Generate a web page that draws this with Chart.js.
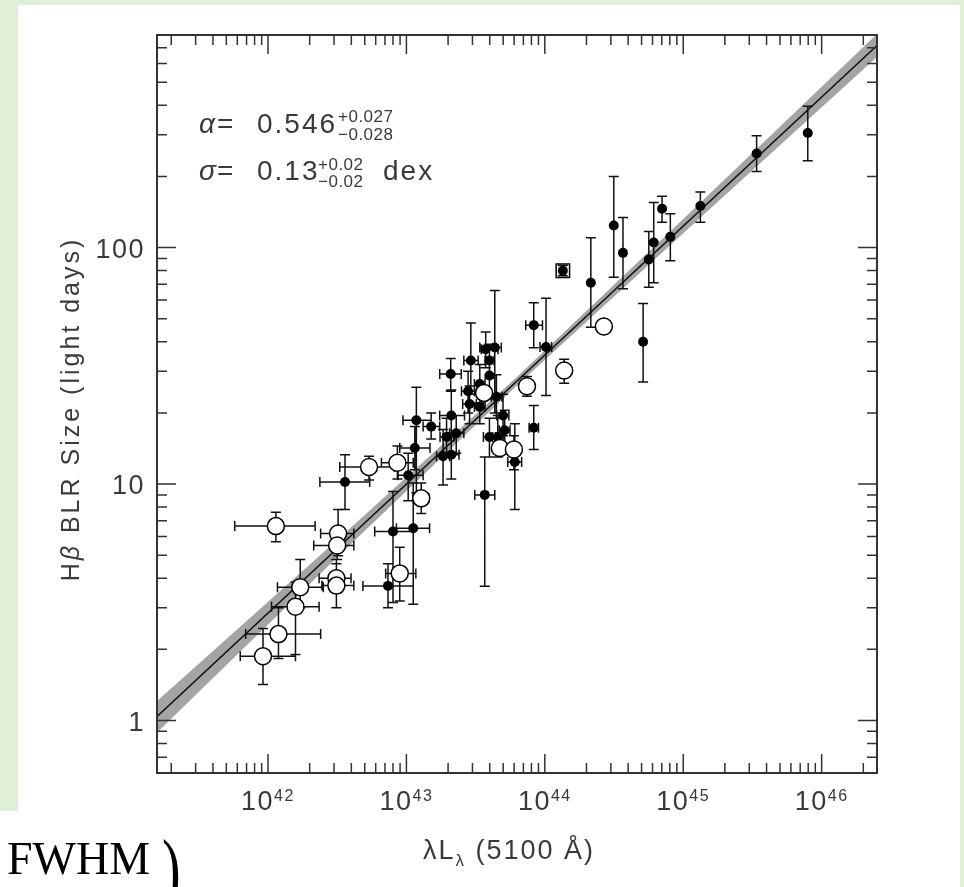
<!DOCTYPE html>
<html>
<head>
<meta charset="utf-8">
<script src="https://cdn.jsdelivr.net/npm/chart.js@4.4.1/dist/chart.umd.min.js"></script>
<style>
  html, body { margin: 0; padding: 0; background: #fff; }
  body { width: 964px; height: 887px; position: relative; overflow: hidden; }
  .green { position: absolute; background: #e0f0d8; }
  #chart { position: absolute; left: 0; top: 0; }
  #fwhm { position: absolute; left: 7px; top: 836px; font: 46px/46px 'Liberation Serif', serif; color: #000; }
  #paren { position: absolute; left: 162px; top: 827px; font: 56px/56px 'Liberation Serif', serif; color: #000;
           transform: scaleY(1.5); transform-origin: top left; }
</style>
</head>
<body>
<div class="green" style="left:0;top:0;width:964px;height:5px"></div>
<div class="green" style="left:0;top:0;width:18px;height:811px"></div>
<div class="green" style="left:960px;top:0;width:4px;height:887px"></div>
<canvas id="chart" width="964" height="887"></canvas>
<div id="fwhm">FWHM</div>
<div id="paren">)</div>
<script>
// H-beta BLR size vs 5100A luminosity (log-log)
const xDecades = [1e42, 1e43, 1e44, 1e45, 1e46];
const yDecades = [1, 10, 100];
const xRange = [10 ** 41.198, 10 ** 46.40];
const yRange = [10 ** -0.195, 10 ** 2.899];

// best fit line and its band
const fitL = [1.58e41, 2.51e46];
const fitR = [1.04, 716];
const bandL = [1.58e41, 3.16e42, 6.31e43, 1e45, 2.51e46];
const bandUpper = [1.21, 5.8, 28.4, 132, 800];
const bandLower = [0.89, 4.9, 26.2, 115, 640];

// rows: [L, R, L low, L high, R low, R high]
const filledPts = [
  [7.94e45, 305, null, null, 233, 396],
  [3.39e45, 250, null, null, 210, 297],
  [1.33e45, 150, null, null, 128, 172],
  [8.07e44, 111, null, null, 88, 139],
  [7.03e44, 146, null, null, 128, 165],
  [6.12e44, 105, null, null, 71, 155],
  [5.64e44, 89, null, null, 68, 117],
  [5.13e44, 40, null, null, 27, 58],
  [3.67e44, 95, null, null, 67, 134],
  [3.15e44, 124, null, null, 75, 200],
  [2.15e44, 71, null, null, 46, 110],
  [1.02e44, 38, 9.23e43, 1.12e44, 23.7, 61],
  [8.32e43, 47, 7.28e43, 9.62e43, 37.7, 58.4],
  [8.32e43, 17.3, 7.7e43, 9.0e43, 14.0, 21.5],
  [6.07e43, 12.4, 5.4e43, 6.8e43, 7.8, 18],
  [3.68e43, 9.0, 3.12e43, 4.35e43, 3.7, 13],
  [4.35e43, 37.8, 3.39e43, 4.85e43, 20, 65.8],
  [3.74e43, 37.2, 3.48e43, 4.59e43, 31, 44],
  [2.92e43, 33.3, 2.6e43, 3.3e43, 24, 48],
  [2.09e43, 29.2, 1.74e43, 2.49e43, 24.7, 34],
  [2.79e43, 24.7, 2.5e43, 3.1e43, 20, 30],
  [3.39e43, 26.5, 3.1e43, 3.7e43, 22, 32],
  [2.86e43, 21.8, 2.55e43, 3.2e43, 18, 26],
  [3.39e43, 21.2, 3.1e43, 3.7e43, 18, 25],
  [4.47e43, 23.4, 4.1e43, 4.9e43, 19, 29],
  [4.99e43, 19.5, 4.5e43, 5.5e43, 16, 24],
  [3.98e43, 15.8, 3.6e43, 4.4e43, 13, 19],
  [4.57e43, 15.8, 4.2e43, 5.0e43, 13, 19.5],
  [5.13e43, 16.9, 4.7e43, 5.6e43, 14, 20.5],
  [2.11e43, 19.5, 1.74e43, 2.63e43, 16, 25],
  [1.51e43, 17.5, 1.32e43, 1.74e43, 15.5, 20],
  [1.95e43, 15.8, 1.75e43, 2.2e43, 13, 19],
  [2.29e43, 16.4, 2.05e43, 2.6e43, 13.5, 19.5],
  [1.18e43, 18.6, 9.44e42, 1.51e43, 9.2, 25.7],
  [1.84e43, 13.1, 1.65e43, 2.05e43, 9.9, 17],
  [2.11e43, 13.3, 1.85e43, 2.4e43, 10.5, 16.5],
  [1.03e43, 10.9, 8.7e42, 1.32e43, 8.5, 13.5],
  [1.15e43, 14.2, 8.95e42, 1.48e43, 11.5, 17.5],
  [3.6e42, 10.2, 2.37e42, 5.43e42, 7.8, 13.3],
  [8.0e42, 6.3, 5.9e42, 1.12e43, 3.16, 9.3],
  [1.12e43, 6.5, 8.47e42, 1.47e43, 3.1, 10.1],
  [7.36e42, 3.71, 4.85e42, 1.12e43, 3.0, 4.6],
  [1.35e44, 79.8, null, null, 76, 84],
  [3.98e43, 33.3, 3.7e43, 4.3e43, 28, 39],
  [3.98e43, 28.8, null, null, 24, 34],
];

const openPts = [
  [2.67e44, 46.4, null, null, null, null],
  [1.38e44, 30.2, null, null, 26.7, 33.7],
  [7.43e43, 25.9, null, null, 23.5, 28.5],
  [4.73e43, 14.2, null, null, null, null],
  [5.98e43, 14.0, 5.5e43, 6.5e43, 11.5, 16],
  [3.64e43, 24.3, null, null, null, null],
  [5.37e42, 11.8, 3.3e42, 8.2e42, 10.4, 13.1],
  [8.61e42, 12.3, 6.6e42, 1.12e43, 10.5, 14.5],
  [1.28e43, 8.7, 1.12e43, 1.45e43, 7.5, 10.1],
  [1.14e42, 6.64, 5.75e41, 2.19e42, 5.7, 7.6],
  [3.21e42, 6.18, 2.4e42, 4.17e42, 4.97, 7.8],
  [3.16e42, 5.5, 2.14e42, 4.17e42, 4.8, 6.3],
  [8.95e42, 4.19, 7.08e42, 1.17e43, 3.2, 5.4],
  [3.12e42, 4.0, 2.34e42, 3.98e42, 3.5, 4.6],
  [3.12e42, 3.72, 2.45e42, 4.17e42, 3.0, 4.8],
  [1.71e42, 3.66, 1.17e42, 2.51e42, 3.0, 4.8],
  [1.58e42, 3.03, 1.06e42, 2.34e42, 1.9, 3.84],
  [1.19e42, 2.32, 6.9e41, 2.4e42, 1.83, 3.0],
  [9.2e41, 1.87, 6.3e41, 1.58e42, 1.42, 2.45],
];

const boxedPts = [[1.35e44, 79.8]];

const SANS = "'Liberation Sans', Arial, sans-serif";
const TEXT = '#3a3a3a';
const CAP = 5;

const toXY = (xs, ys) => xs.map((x, i) => ({ x: x, y: ys[i] }));
const rowsXY = rows => rows.map(r => ({ x: r[0], y: r[1] }));

function drawErrorBars(chart, rows) {
  const { ctx, scales: { x, y } } = chart;
  ctx.save();
  ctx.strokeStyle = '#111';
  ctx.lineWidth = 1.5;
  ctx.beginPath();
  rows.forEach(r => {
    const px = x.getPixelForValue(r[0]);
    const py = y.getPixelForValue(r[1]);
    if (r[2] != null) {
      const a = x.getPixelForValue(r[2]), b = x.getPixelForValue(r[3]);
      ctx.moveTo(a, py); ctx.lineTo(b, py);
      ctx.moveTo(a, py - CAP); ctx.lineTo(a, py + CAP);
      ctx.moveTo(b, py - CAP); ctx.lineTo(b, py + CAP);
    }
    if (r[4] != null) {
      const a = y.getPixelForValue(r[4]), b = y.getPixelForValue(r[5]);
      ctx.moveTo(px, a); ctx.lineTo(px, b);
      ctx.moveTo(px - CAP, a); ctx.lineTo(px + CAP, a);
      ctx.moveTo(px - CAP, b); ctx.lineTo(px + CAP, b);
    }
  });
  ctx.stroke();
  ctx.restore();
}

// draw a row of text pieces: [text, font, dy]
function drawRuns(ctx, runs, x, y, align) {
  let w = 0;
  runs.forEach(r => { ctx.font = r[1]; w += ctx.measureText(r[0]).width; });
  let cx = align === 'center' ? x - w / 2 : align === 'right' ? x - w : x;
  ctx.textAlign = 'left';
  runs.forEach(r => {
    ctx.font = r[1];
    ctx.fillText(r[0], cx, y + (r[2] || 0));
    cx += ctx.measureText(r[0]).width;
  });
}

function minorTicks(decades, lo, hi) {
  const out = [];
  const first = decades[0] / 10;
  for (let d = first; d <= decades[decades.length - 1] * 10; d *= 10) {
    for (let m = 1; m <= 9; m++) {
      const v = m * d;
      if (v >= lo && v <= hi) out.push({ v: v, major: m === 1 });
    }
  }
  return out;
}

const framePlugin = {
  id: 'frame',
  beforeDatasetDraw(chart, args) {
    if (args.index === 3) drawErrorBars(chart, filledPts);
    if (args.index === 4) drawErrorBars(chart, openPts);
  },
  afterDraw(chart) {
    const { ctx, chartArea: a, scales: { x, y } } = chart;
    ctx.save();
    ctx.strokeStyle = '#333';
    ctx.lineWidth = 1.5;
    ctx.beginPath();
    minorTicks(xDecades, xRange[0], xRange[1]).forEach(t => {
      const px = x.getPixelForValue(t.v), len = t.major ? 19 : 10;
      ctx.moveTo(px, a.bottom); ctx.lineTo(px, a.bottom - len);
      ctx.moveTo(px, a.top); ctx.lineTo(px, a.top + len);
    });
    minorTicks(yDecades, yRange[0], yRange[1]).forEach(t => {
      const py = y.getPixelForValue(t.v), len = t.major ? 19 : 10;
      ctx.moveTo(a.left, py); ctx.lineTo(a.left + len, py);
      ctx.moveTo(a.right, py); ctx.lineTo(a.right - len, py);
    });
    ctx.stroke();
    ctx.lineWidth = 2;
    ctx.strokeRect(a.left, a.top, a.right - a.left, a.bottom - a.top);

    ctx.fillStyle = TEXT;
    ctx.textBaseline = 'alphabetic';
    ctx.letterSpacing = '1.5px';
    // x tick labels 10^n
    xDecades.forEach(d => {
      const e = String(Math.round(Math.log10(d)));
      drawRuns(ctx, [['10', '27px ' + SANS], [e, '16px ' + SANS, -9]], x.getPixelForValue(d), 810, 'center');
    });
    // y tick labels
    yDecades.forEach(d => {
      drawRuns(ctx, [[String(d), '27px ' + SANS]], 145, y.getPixelForValue(d) + 10, 'right');
    });

    // axis titles
    ctx.letterSpacing = '2px';
    drawRuns(ctx, [['λL', '27px ' + SANS], ['λ', '17px ' + SANS, 7], [' (5100 Å)', '27px ' + SANS]], 509, 859, 'center');
    ctx.save();
    ctx.translate(79, 409);
    ctx.rotate(-Math.PI / 2);
    ctx.letterSpacing = '3px';
    drawRuns(ctx, [['H', '25px ' + SANS], ['β', 'italic 25px ' + SANS], [' BLR Size (light days)', '25px ' + SANS]], 0, 0, 'center');
    ctx.restore();

    // fit annotation
    ctx.letterSpacing = '2px';
    ctx.font = 'italic 28px ' + SANS;
    ctx.fillText('α', 199, 133);
    ctx.fillText('σ', 199, 180);
    ctx.font = '28px ' + SANS;
    ctx.fillText('=', 217, 133);
    ctx.fillText('=', 217, 180);
    ctx.fillText('0.546', 257, 133);
    ctx.fillText('0.13', 257, 180);
    ctx.fillText('dex', 383, 180);
    ctx.letterSpacing = '0.5px';
    ctx.font = '17px ' + SANS;
    ctx.fillText('+0.027', 338, 122);
    ctx.fillText('\u22120.028', 338, 140);
    ctx.fillText('+0.02', 318, 170);
    ctx.fillText('\u22120.02', 318, 187);
    ctx.restore();
  }
};

new Chart(document.getElementById('chart'), {
  type: 'line',
  data: {
    datasets: [
      { data: toXY(bandL, bandUpper), fill: '+1', backgroundColor: '#a4a4a4', borderWidth: 0,
        pointRadius: 0, order: 6 },
      { data: toXY(bandL, bandLower), fill: false, borderWidth: 0, pointRadius: 0, order: 7 },
      { data: toXY(fitL, fitR), borderColor: '#111', borderWidth: 1.5, pointRadius: 0, fill: false, order: 5 },
      { data: rowsXY(filledPts), showLine: false, pointRadius: 5, pointBackgroundColor: '#000',
        pointBorderWidth: 0, order: 3 },
      { data: rowsXY(openPts), showLine: false, pointRadius: 8.5, pointBackgroundColor: '#fff',
        pointBorderColor: '#000', pointBorderWidth: 1.5, order: 2 },
      { data: rowsXY(boxedPts), showLine: false, pointStyle: 'rect', pointRadius: 9.5,
        pointBackgroundColor: 'rgba(0,0,0,0)', pointBorderColor: '#000', pointBorderWidth: 1.5, order: 1 },
    ]
  },
  options: {
    responsive: false,
    animation: false,
    devicePixelRatio: 1,
    layout: { padding: { left: 157, top: 35, right: 87, bottom: 114 } },
    scales: {
      x: { type: 'logarithmic', min: xRange[0], max: xRange[1], display: false },
      y: { type: 'logarithmic', min: yRange[0], max: yRange[1], display: false }
    },
    plugins: { legend: { display: false }, tooltip: { enabled: false } },
    events: []
  },
  plugins: [framePlugin]
});
</script>
</body>
</html>
